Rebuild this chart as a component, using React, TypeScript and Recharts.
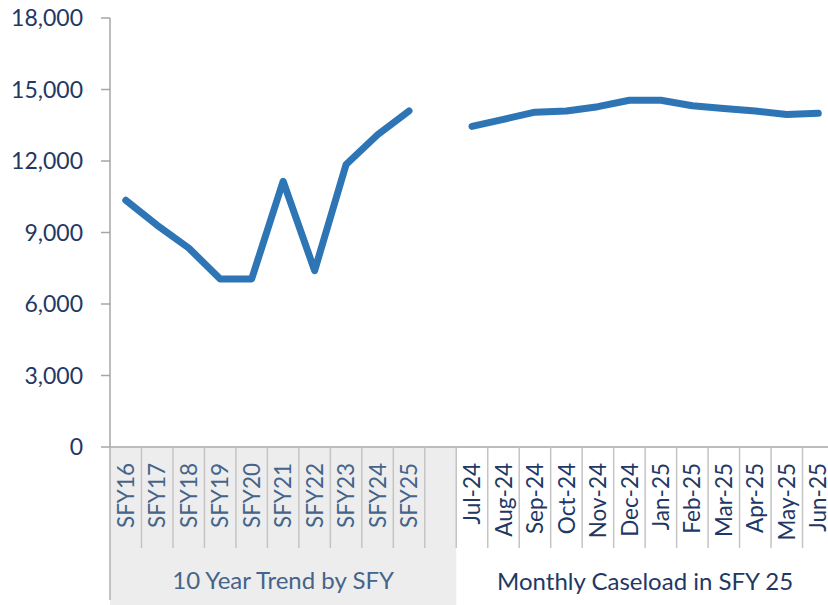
import { LineChart, Line, XAxis, YAxis } from 'recharts';

const yearLabels = ['SFY16', 'SFY17', 'SFY18', 'SFY19', 'SFY20', 'SFY21', 'SFY22', 'SFY23', 'SFY24', 'SFY25'];
const yearValues = [10350, 9300, 8350, 7050, 7050, 11150, 7400, 11850, 13100, 14100];

const monthLabels = ['Jul-24', 'Aug-24', 'Sep-24', 'Oct-24', 'Nov-24', 'Dec-24', 'Jan-25', 'Feb-25', 'Mar-25', 'Apr-25', 'May-25', 'Jun-25'];
const monthValues = [13450, 13750, 14050, 14100, 14280, 14550, 14550, 14320, 14200, 14100, 13950, 14000];

const yTicks = [0, 3000, 6000, 9000, 12000, 15000, 18000];

const groupLabels = ['10 Year Trend by SFY', 'Monthly Caseload in SFY 25'];

const data = [
    ...yearLabels.map((name, i) => ({ name, caseload: yearValues[i] })),
    { name: ' ', caseload: null },
    ...monthLabels.map((name, i) => ({ name, caseload: monthValues[i] })),
];

const CHART_W = 834;
const CHART_H = 605;
const AXIS_W = 110;
const BAND = (CHART_W - AXIS_W) / data.length;
const FONT = 'Lato, "Open Sans", sans-serif';
const NAVY = '#1f3864';

function CategoryTick(props: any) {
    const { x, y, payload, index } = props;
    const left = x - BAND / 2;
    const firstGroupLen = yearLabels.length + 1;
    const inFirst = index < firstGroupLen;
    return (
        <g>
            {index === 0 && (
                <>
                    <rect x={left} y={y + 1} width={BAND * firstGroupLen} height={CHART_H - y - 1} fill="#ededed" />
                    <line x1={left} x2={left} y1={y} y2={600} stroke="#b0b0b0" strokeWidth={1.5} />
                    <text x={left + (BAND * firstGroupLen) / 2} y={589} textAnchor="middle" fontSize={24} fill="#44648a" fontFamily={FONT}>
                        {groupLabels[0]}
                    </text>
                </>
            )}
            {index === firstGroupLen && (
                <text x={left + (BAND * monthLabels.length) / 2} y={590} textAnchor="middle" fontSize={24} fill={NAVY} fontFamily={FONT}>
                    {groupLabels[1]}
                </text>
            )}
            <line x1={left + BAND} x2={left + BAND} y1={y} y2={y + 101} stroke="#c4c4c4" strokeWidth={1.5} />
            <text
                transform={`translate(${x},${y + 16}) rotate(-90)`}
                textAnchor="end"
                dy="0.36em"
                fontSize={22.5}
                fill={inFirst ? '#44648a' : NAVY}
                fontFamily={FONT}
            >
                {payload.value}
            </text>
        </g>
    );
}

export default function App() {
    return (
        <div style={{ position: 'absolute', left: 0, top: 0, width: 828, height: 605, overflow: 'hidden', background: '#fff' }}>
            <LineChart width={CHART_W} height={CHART_H} data={data} margin={{ top: 18, right: 0, left: 0, bottom: 0 }}>
                <XAxis
                    dataKey="name"
                    height={158}
                    interval={0}
                    padding={{ left: BAND / 2, right: BAND / 2 }}
                    tickLine={false}
                    tickSize={0}
                    tickMargin={0}
                    stroke="#a6a6a6"
                    strokeWidth={1.5}
                    tick={<CategoryTick />}
                />
                <YAxis
                    width={AXIS_W}
                    domain={[0, 18000]}
                    ticks={yTicks}
                    tickFormatter={(v: number) => v.toLocaleString('en-US')}
                    stroke="#a6a6a6"
                    strokeWidth={1.5}
                    tickSize={9}
                    tickMargin={18}
                    tick={{ fill: NAVY, fontSize: 23, fontFamily: FONT }}
                />
                <Line
                    type="linear"
                    dataKey="caseload"
                    stroke="#2e75b6"
                    strokeWidth={7}
                    strokeLinecap="round"
                    strokeLinejoin="round"
                    dot={false}
                    connectNulls={false}
                    isAnimationActive={false}
                />
            </LineChart>
        </div>
    );
}
